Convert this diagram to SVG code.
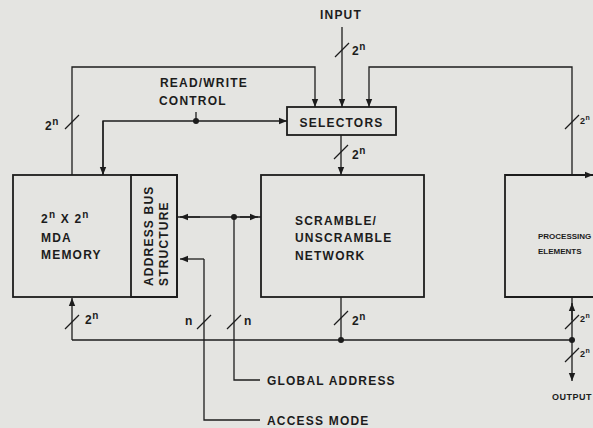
<svg xmlns="http://www.w3.org/2000/svg" width="593" height="428" viewBox="0 0 593 428">
<defs>
<marker id="ah" viewBox="0 0 10 10" refX="10" refY="5" markerWidth="8" markerHeight="8" markerUnits="userSpaceOnUse" orient="auto">
<path d="M0,1 L10,5 L0,9 Z" fill="#1c1c1c"/>
</marker>
</defs>
<style>
.bg{fill:#e4e4e1}
.box{fill:none;stroke:#1c1c1c;stroke-width:1.8}
.ln{fill:none;stroke:#1c1c1c;stroke-width:1.3}
.ar{fill:none;stroke:#1c1c1c;stroke-width:1.3;marker-end:url(#ah)}
.sl{stroke:#1c1c1c;stroke-width:1.3}
.dot{fill:#1c1c1c}
text{font-family:"Liberation Sans",Arial,sans-serif;font-size:12px;letter-spacing:1.2px;fill:#1c1c1c;font-weight:bold}
.sm{font-size:9px;letter-spacing:0.5px}
.pe{font-size:8px;letter-spacing:0px}
.lb{font-size:12px;letter-spacing:0.5px}
</style>
<rect class="bg" x="0" y="0" width="593" height="428"/>

<g id="memory">
<rect class="box" x="13" y="175" width="164" height="122"/>
<text x="41" y="223">2<tspan font-size="10" dy="-5">n</tspan><tspan dy="5"> X 2</tspan><tspan font-size="10" dy="-5">n</tspan></text>
<text x="41" y="242">MDA</text>
<text x="41" y="259">MEMORY</text>
</g>
<g id="address-bus">
<rect class="box" x="131" y="175" width="46" height="122"/>
<text transform="translate(153,286) rotate(-90)">ADDRESS BUS</text>
<text transform="translate(168,286) rotate(-90)">STRUCTURE</text>
</g>
<g id="selectors">
<rect class="box" x="287" y="107" width="109" height="28"/>
<text x="341.5" y="127" text-anchor="middle">SELECTORS</text>
</g>
<g id="scramble">
<rect class="box" x="261" y="175" width="163" height="122"/>
<text x="295" y="225">SCRAMBLE/</text>
<text x="295" y="242">UNSCRAMBLE</text>
<text x="295" y="260">NETWORK</text>
</g>
<g id="processing">
<path class="box" d="M600,175 H505 V297 H600"/>
<text class="pe" x="538" y="239">PROCESSING</text>
<text class="pe" x="538" y="254">ELEMENTS</text>
</g>
<g id="labels">
<text x="341" y="19" text-anchor="middle">INPUT</text>
<text x="160" y="87">READ/WRITE</text>
<text x="159" y="105">CONTROL</text>
<text x="267" y="385">GLOBAL ADDRESS</text>
<text x="267" y="425">ACCESS MODE</text>
<text class="sm" x="552" y="400">OUTPUT</text>
</g>

<g id="connectors">
<path class="ar" d="M72,175 V67 H315 V107"/>
<path class="ar" d="M342,27 V107"/>
<path class="ar" d="M572,175 V67 H369 V107"/>
<path class="ar" d="M572,175 H593"/>
<path class="ar" d="M103,175 V121 H287"/>
<path class="ar" d="M103,121 V175"/>
<path class="ln" d="M196,112 V121"/>
<circle class="dot" cx="196" cy="121" r="3"/>
<path class="ar" d="M341,135 V175"/>
<path class="ln" d="M177,217 H261"/>
<path class="ar" d="M200,217 H180"/>
<path class="ar" d="M240,217 H258"/>
<circle class="dot" cx="234" cy="217" r="3"/>
<path class="ln" d="M234,217 V380 H260"/>
<path class="ln" d="M204,259 V420 H260"/>
<path class="ar" d="M204,259 H180"/>
<path class="ln" d="M72,340 H572"/>
<path class="ar" d="M72,340 V298"/>
<path class="ln" d="M341,297 V340"/>
<circle class="dot" cx="341" cy="340" r="3"/>
<path class="ln" d="M572,297 V340"/>
<path class="ar" d="M572,320 V303"/>
<circle class="dot" cx="572" cy="340" r="3"/>
<path class="ar" d="M572,340 V381"/>
<line class="sl" x1="65" y1="129" x2="79" y2="115"/>
<line class="sl" x1="335" y1="57" x2="349" y2="43"/>
<line class="sl" x1="334" y1="159" x2="348" y2="145"/>
<line class="sl" x1="565" y1="129" x2="579" y2="115"/>
<line class="sl" x1="65" y1="329" x2="79" y2="315"/>
<line class="sl" x1="197" y1="329" x2="211" y2="315"/>
<line class="sl" x1="227" y1="329" x2="241" y2="315"/>
<line class="sl" x1="334" y1="325" x2="348" y2="311"/>
<line class="sl" x1="565" y1="329" x2="579" y2="315"/>
<line class="sl" x1="565" y1="362" x2="579" y2="348"/>
</g>
<g id="bus-labels">
<text class="lb" x="45" y="130">2<tspan font-size="10" dy="-5">n</tspan></text>
<text class="lb" x="352" y="55">2<tspan font-size="10" dy="-5">n</tspan></text>
<text class="lb" x="352" y="159">2<tspan font-size="10" dy="-5">n</tspan></text>
<text class="sm" x="580" y="124" fill="#888">2<tspan font-size="7" dy="-4">n</tspan></text>
<text class="lb" x="85" y="324">2<tspan font-size="10" dy="-5">n</tspan></text>
<text class="lb" x="185" y="325">n</text>
<text class="lb" x="244" y="325">n</text>
<text class="lb" x="352" y="325">2<tspan font-size="10" dy="-5">n</tspan></text>
<text class="sm" x="580" y="322" fill="#888">2<tspan font-size="7" dy="-4">n</tspan></text>
<text class="sm" x="580" y="357" fill="#888">2<tspan font-size="7" dy="-4">n</tspan></text>
</g>
</svg>
